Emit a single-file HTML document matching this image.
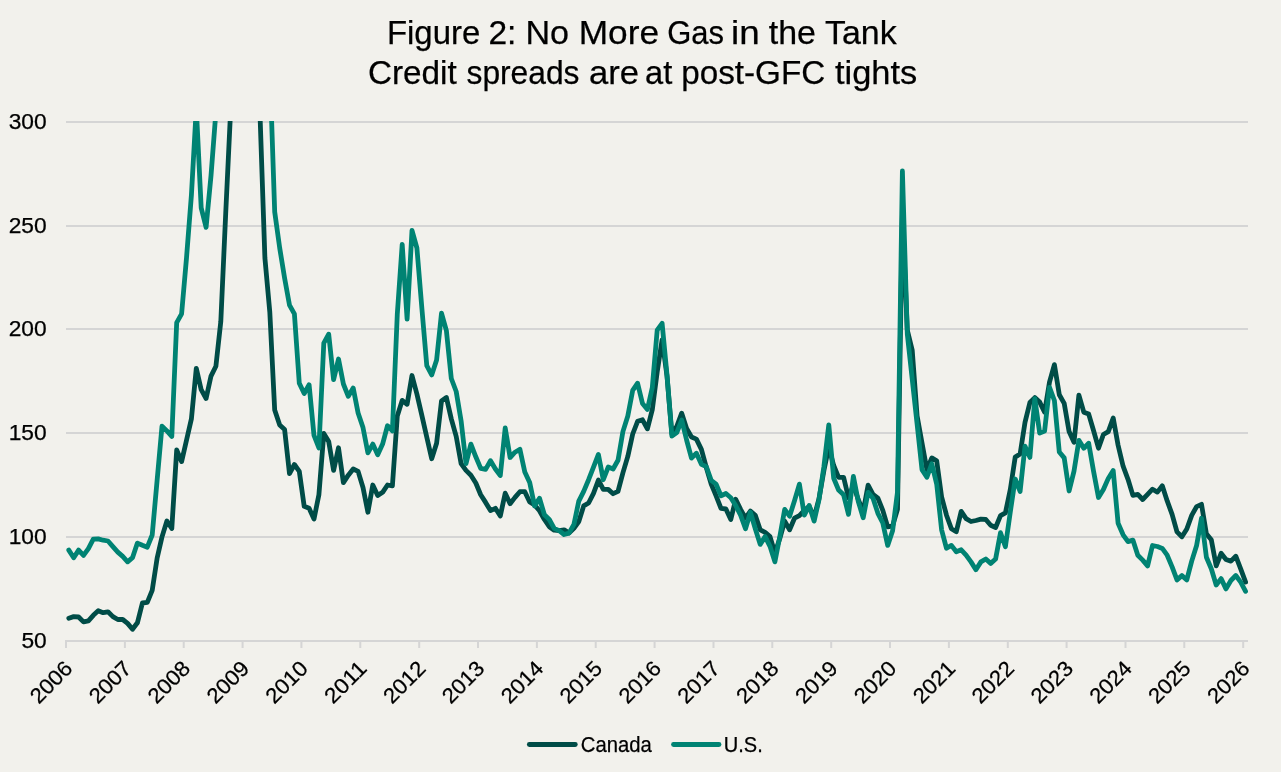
<!DOCTYPE html>
<html lang="en"><head><meta charset="utf-8"><title>Figure 2: No More Gas in the Tank</title>
<style>
html,body{margin:0;padding:0;background:#f2f1ec;}
body{width:1281px;height:772px;overflow:hidden;}
svg{display:block;}
text{font-family:"Liberation Sans",sans-serif;fill:#000;}
.t{font-size:34px;}
.a{font-size:21.4px;}
text{stroke:#000;stroke-width:0.25px;}
</style></head><body>
<svg width="1281" height="772" viewBox="0 0 1281 772">
<rect width="1281" height="772" fill="#f2f1ec"/>
<defs><clipPath id="plot"><rect x="60" y="121" width="1195" height="530"/></clipPath></defs>
<text class="t"><tspan x="386.96" y="43.8" textLength="93.31" lengthAdjust="spacingAndGlyphs">Figure</tspan> <tspan x="488.43" y="43.8" textLength="27.98" lengthAdjust="spacingAndGlyphs">2:</tspan> <tspan x="525.44" y="43.8" textLength="43.6" lengthAdjust="spacingAndGlyphs">No</tspan> <tspan x="578.7" y="43.8" textLength="80.31" lengthAdjust="spacingAndGlyphs">More</tspan> <tspan x="667.24" y="43.8" textLength="56.78" lengthAdjust="spacingAndGlyphs">Gas</tspan> <tspan x="731.07" y="43.8" textLength="28.66" lengthAdjust="spacingAndGlyphs">in</tspan> <tspan x="768.74" y="43.8" textLength="47.23" lengthAdjust="spacingAndGlyphs">the</tspan> <tspan x="825.02" y="43.8" textLength="71.72" lengthAdjust="spacingAndGlyphs">Tank</tspan></text>
<text class="t"><tspan x="368.02" y="83.8" textLength="88.73" lengthAdjust="spacingAndGlyphs">Credit</tspan> <tspan x="466.5" y="83.8" textLength="113.0" lengthAdjust="spacingAndGlyphs">spreads</tspan> <tspan x="589.0" y="83.8" textLength="50.0" lengthAdjust="spacingAndGlyphs">are</tspan> <tspan x="645.03" y="83.8" textLength="27.22" lengthAdjust="spacingAndGlyphs">at</tspan> <tspan x="681.23" y="83.8" textLength="144.03" lengthAdjust="spacingAndGlyphs">post-GFC</tspan> <tspan x="834.99" y="83.8" textLength="82.25" lengthAdjust="spacingAndGlyphs">tights</tspan></text>
<g stroke="#d5d5d5" stroke-width="2" fill="none">
<line x1="65" y1="641" x2="1248" y2="641"/>
<line x1="66" y1="537" x2="1248" y2="537"/>
<line x1="66" y1="433" x2="1248" y2="433"/>
<line x1="66" y1="329" x2="1248" y2="329"/>
<line x1="66" y1="226" x2="1248" y2="226"/>
<line x1="66" y1="122" x2="1248" y2="122"/>
<line x1="66.0" y1="641" x2="66.0" y2="648"/>
<line x1="124.9" y1="641" x2="124.9" y2="648"/>
<line x1="183.7" y1="641" x2="183.7" y2="648"/>
<line x1="242.6" y1="641" x2="242.6" y2="648"/>
<line x1="301.4" y1="641" x2="301.4" y2="648"/>
<line x1="360.3" y1="641" x2="360.3" y2="648"/>
<line x1="419.2" y1="641" x2="419.2" y2="648"/>
<line x1="478.0" y1="641" x2="478.0" y2="648"/>
<line x1="536.9" y1="641" x2="536.9" y2="648"/>
<line x1="595.7" y1="641" x2="595.7" y2="648"/>
<line x1="654.6" y1="641" x2="654.6" y2="648"/>
<line x1="713.5" y1="641" x2="713.5" y2="648"/>
<line x1="772.3" y1="641" x2="772.3" y2="648"/>
<line x1="831.2" y1="641" x2="831.2" y2="648"/>
<line x1="890.0" y1="641" x2="890.0" y2="648"/>
<line x1="948.9" y1="641" x2="948.9" y2="648"/>
<line x1="1007.8" y1="641" x2="1007.8" y2="648"/>
<line x1="1066.6" y1="641" x2="1066.6" y2="648"/>
<line x1="1125.5" y1="641" x2="1125.5" y2="648"/>
<line x1="1184.3" y1="641" x2="1184.3" y2="648"/>
<line x1="1243.2" y1="641" x2="1243.2" y2="648"/>
</g>
<text class="a" x="21.4" y="647.6" textLength="25.3" lengthAdjust="spacingAndGlyphs">50</text>
<text class="a" x="8.7" y="543.6" textLength="38.0" lengthAdjust="spacingAndGlyphs">100</text>
<text class="a" x="8.7" y="439.6" textLength="38.0" lengthAdjust="spacingAndGlyphs">150</text>
<text class="a" x="8.7" y="335.6" textLength="38.0" lengthAdjust="spacingAndGlyphs">200</text>
<text class="a" x="8.7" y="232.6" textLength="38.0" lengthAdjust="spacingAndGlyphs">250</text>
<text class="a" x="8.7" y="128.6" textLength="38.0" lengthAdjust="spacingAndGlyphs">300</text>
<text class="a" transform="translate(73.8,669.7) rotate(-45)" x="-49.5" y="0" textLength="49.5" lengthAdjust="spacingAndGlyphs">2006</text>
<text class="a" transform="translate(132.7,669.7) rotate(-45)" x="-49.5" y="0" textLength="49.5" lengthAdjust="spacingAndGlyphs">2007</text>
<text class="a" transform="translate(191.5,669.7) rotate(-45)" x="-49.5" y="0" textLength="49.5" lengthAdjust="spacingAndGlyphs">2008</text>
<text class="a" transform="translate(250.4,669.7) rotate(-45)" x="-49.5" y="0" textLength="49.5" lengthAdjust="spacingAndGlyphs">2009</text>
<text class="a" transform="translate(309.2,669.7) rotate(-45)" x="-49.5" y="0" textLength="49.5" lengthAdjust="spacingAndGlyphs">2010</text>
<text class="a" transform="translate(368.1,669.7) rotate(-45)" x="-49.5" y="0" textLength="49.5" lengthAdjust="spacingAndGlyphs">2011</text>
<text class="a" transform="translate(427.0,669.7) rotate(-45)" x="-49.5" y="0" textLength="49.5" lengthAdjust="spacingAndGlyphs">2012</text>
<text class="a" transform="translate(485.8,669.7) rotate(-45)" x="-49.5" y="0" textLength="49.5" lengthAdjust="spacingAndGlyphs">2013</text>
<text class="a" transform="translate(544.7,669.7) rotate(-45)" x="-49.5" y="0" textLength="49.5" lengthAdjust="spacingAndGlyphs">2014</text>
<text class="a" transform="translate(603.5,669.7) rotate(-45)" x="-49.5" y="0" textLength="49.5" lengthAdjust="spacingAndGlyphs">2015</text>
<text class="a" transform="translate(662.4,669.7) rotate(-45)" x="-49.5" y="0" textLength="49.5" lengthAdjust="spacingAndGlyphs">2016</text>
<text class="a" transform="translate(721.3,669.7) rotate(-45)" x="-49.5" y="0" textLength="49.5" lengthAdjust="spacingAndGlyphs">2017</text>
<text class="a" transform="translate(780.1,669.7) rotate(-45)" x="-49.5" y="0" textLength="49.5" lengthAdjust="spacingAndGlyphs">2018</text>
<text class="a" transform="translate(839.0,669.7) rotate(-45)" x="-49.5" y="0" textLength="49.5" lengthAdjust="spacingAndGlyphs">2019</text>
<text class="a" transform="translate(897.8,669.7) rotate(-45)" x="-49.5" y="0" textLength="49.5" lengthAdjust="spacingAndGlyphs">2020</text>
<text class="a" transform="translate(956.7,669.7) rotate(-45)" x="-49.5" y="0" textLength="49.5" lengthAdjust="spacingAndGlyphs">2021</text>
<text class="a" transform="translate(1015.6,669.7) rotate(-45)" x="-49.5" y="0" textLength="49.5" lengthAdjust="spacingAndGlyphs">2022</text>
<text class="a" transform="translate(1074.4,669.7) rotate(-45)" x="-49.5" y="0" textLength="49.5" lengthAdjust="spacingAndGlyphs">2023</text>
<text class="a" transform="translate(1133.3,669.7) rotate(-45)" x="-49.5" y="0" textLength="49.5" lengthAdjust="spacingAndGlyphs">2024</text>
<text class="a" transform="translate(1192.1,669.7) rotate(-45)" x="-49.5" y="0" textLength="49.5" lengthAdjust="spacingAndGlyphs">2025</text>
<text class="a" transform="translate(1251.0,669.7) rotate(-45)" x="-49.5" y="0" textLength="49.5" lengthAdjust="spacingAndGlyphs">2026</text>
<g clip-path="url(#plot)" fill="none" stroke-width="4.8" stroke-linejoin="round" stroke-linecap="round">
<polyline stroke="#004c47" points="68.8,618.2 73.7,616.6 78.6,617.0 83.5,621.9 88.4,620.9 93.3,615.3 98.2,610.8 103.1,612.7 108.0,611.8 112.9,616.6 117.8,619.5 122.7,619.5 127.6,623.4 132.5,629.3 137.4,622.8 142.4,603.0 147.3,602.4 152.2,590.4 157.1,558.3 162.0,536.9 166.9,521.0 171.8,528.5 176.7,450.0 181.6,461.6 186.5,440.3 191.4,418.9 196.3,368.3 201.2,389.7 206.1,398.5 211.0,376.1 215.9,366.3 220.8,321.6 225.7,213.7 230.6,110.9 235.5,20.0 240.4,-40.0 245.3,-100.0 250.2,-60.0 255.1,30.0 260.0,114.3 264.9,258.0 269.8,312.0 274.7,410.1 279.7,425.1 284.6,429.6 289.5,473.7 294.4,464.5 299.3,471.4 304.2,506.3 309.1,508.3 314.0,519.0 318.9,494.7 323.8,433.5 328.7,441.5 333.6,470.4 338.5,447.8 343.4,482.6 348.3,475.2 353.2,469.0 358.1,471.4 363.0,487.5 367.9,512.2 372.8,485.0 377.7,495.6 382.6,492.3 387.5,485.0 392.4,485.9 397.3,416.0 402.2,400.4 407.1,404.3 412.0,375.5 416.9,394.0 421.9,415.6 426.8,437.3 431.7,458.7 436.6,443.2 441.5,401.0 446.4,397.5 451.3,418.9 456.2,436.4 461.1,463.6 466.0,470.4 470.9,475.2 475.8,483.0 480.7,494.7 485.6,502.4 490.5,510.6 495.4,508.3 500.3,516.0 505.2,493.2 510.1,503.7 515.0,497.4 519.9,491.7 524.8,491.7 529.7,502.0 534.6,505.0 539.5,510.8 544.4,519.5 549.3,526.7 554.2,530.2 559.1,530.6 564.1,529.8 569.0,533.1 573.9,528.3 578.8,521.5 583.7,505.9 588.6,503.0 593.5,493.3 598.4,480.1 603.3,489.4 608.2,489.4 613.1,493.7 618.0,491.4 622.9,472.9 627.8,456.4 632.7,434.0 637.6,421.4 642.5,419.8 647.4,428.8 652.3,409.7 657.2,371.9 662.1,339.8 667.0,376.0 671.9,434.0 676.8,426.3 681.7,413.2 686.6,428.5 691.5,437.0 696.4,439.1 701.4,449.4 706.3,467.5 711.2,484.1 716.1,495.8 721.0,508.4 725.9,509.0 730.8,519.5 735.7,499.3 740.6,509.4 745.5,518.2 750.4,511.0 755.3,515.2 760.2,529.8 765.1,532.3 770.0,536.6 774.9,553.0 779.8,538.6 784.7,521.1 789.6,529.8 794.5,518.2 799.4,515.6 804.3,510.4 809.2,506.5 814.1,517.2 819.0,498.7 823.9,470.5 828.8,447.0 833.7,465.5 838.6,477.3 843.6,477.3 848.5,497.7 853.4,485.0 858.3,499.7 863.2,511.4 868.1,485.1 873.0,494.3 877.9,498.2 882.8,510.4 887.7,526.9 892.6,525.9 897.5,509.4 902.4,215.0 907.3,330.0 912.2,350.0 917.1,416.0 922.0,443.0 926.9,469.6 931.8,457.9 936.7,460.8 941.6,496.8 946.5,515.2 951.4,528.8 956.3,531.8 961.2,511.4 966.1,518.7 971.0,521.5 975.9,520.5 980.9,519.1 985.8,519.5 990.7,525.3 995.6,527.5 1000.5,515.6 1005.4,512.9 1010.3,489.5 1015.2,457.1 1020.1,454.0 1025.0,422.4 1029.9,402.5 1034.8,397.6 1039.7,402.1 1044.6,412.2 1049.5,382.1 1054.4,364.6 1059.3,394.7 1064.2,403.4 1069.1,431.6 1074.0,442.3 1078.9,395.1 1083.8,412.2 1088.7,414.1 1093.6,430.7 1098.5,448.2 1103.4,434.5 1108.3,431.6 1113.2,418.0 1118.1,445.2 1123.1,466.2 1128.0,479.3 1132.9,495.4 1137.8,494.4 1142.7,499.5 1147.6,494.4 1152.5,489.2 1157.4,492.1 1162.3,485.8 1167.2,500.9 1172.1,514.4 1177.0,531.9 1181.9,536.8 1186.8,529.0 1191.7,515.4 1196.6,506.6 1201.5,504.3 1206.4,533.9 1211.3,539.7 1216.2,565.9 1221.1,553.3 1226.0,559.5 1230.9,561.1 1235.8,556.2 1240.7,568.8 1245.6,582.1"/>
<polyline stroke="#008373" points="68.8,550.1 73.7,557.7 78.6,550.1 83.5,555.4 88.4,548.6 93.3,539.2 98.2,538.9 103.1,540.2 108.0,541.0 112.9,546.6 117.8,552.1 122.7,556.4 127.6,561.8 132.5,557.7 137.4,543.1 142.4,545.3 147.3,547.2 152.2,535.0 157.1,480.5 162.0,426.1 166.9,430.9 171.8,436.4 176.7,322.6 181.6,313.9 186.5,258.0 191.4,195.2 196.3,107.8 201.2,207.9 206.1,227.3 211.0,175.8 215.9,111.9 220.8,40.0 225.7,-50.0 230.6,-200.0 235.5,-400.0 240.4,-600.0 245.3,-600.0 250.2,-500.0 255.1,-300.0 260.0,-150.0 264.9,-40.0 269.8,67.0 274.7,211.8 279.7,248.0 284.6,278.1 289.5,305.1 294.4,313.9 299.3,383.3 304.2,393.5 309.1,384.8 314.0,435.4 318.9,448.0 323.8,343.2 328.7,334.2 333.6,379.7 338.5,359.0 343.4,384.0 348.3,396.3 353.2,388.0 358.1,413.0 363.0,427.6 367.9,452.9 372.8,444.1 377.7,454.8 382.6,444.1 387.5,425.7 392.4,430.9 397.3,314.0 402.2,244.5 407.1,319.1 412.0,230.5 416.9,248.0 421.9,308.6 426.8,365.7 431.7,375.0 436.6,359.9 441.5,313.2 446.4,330.7 451.3,378.5 456.2,391.5 461.1,420.8 466.0,463.6 470.9,444.1 475.8,456.8 480.7,468.4 485.6,469.4 490.5,460.7 495.4,469.0 500.3,475.5 505.2,427.9 510.1,457.5 515.0,452.2 519.9,449.3 524.8,471.9 529.7,482.6 534.6,505.9 539.5,498.2 544.4,514.7 549.3,519.5 554.2,528.3 559.1,530.6 564.1,534.5 569.0,533.1 573.9,524.4 578.8,501.1 583.7,491.4 588.6,479.7 593.5,467.1 598.4,454.4 603.3,479.7 608.2,467.1 613.1,469.0 618.0,460.3 622.9,431.6 627.8,416.0 632.7,390.4 637.6,383.2 642.5,403.5 647.4,409.5 652.3,387.5 657.2,330.1 662.1,323.3 667.0,375.0 671.9,436.0 676.8,432.6 681.7,420.0 686.6,440.0 691.5,458.1 696.4,453.2 701.4,464.3 706.3,466.6 711.2,480.3 716.1,484.1 721.0,495.8 725.9,493.5 730.8,497.7 735.7,505.5 740.6,515.2 745.5,528.8 750.4,512.3 755.3,528.8 760.2,544.4 765.1,536.6 770.0,546.3 774.9,561.9 779.8,536.6 784.7,509.4 789.6,516.2 794.5,500.7 799.4,484.1 804.3,515.2 809.2,505.5 814.1,521.1 819.0,499.7 823.9,466.6 828.8,424.9 833.7,478.3 838.6,490.0 843.6,494.8 848.5,514.3 853.4,476.4 858.3,501.6 863.2,517.7 868.1,492.4 873.0,498.2 877.9,513.3 882.8,523.0 887.7,545.4 892.6,530.8 897.5,492.0 902.4,171.0 907.3,334.0 912.2,379.0 917.1,423.9 922.0,469.6 926.9,477.3 931.8,463.7 936.7,484.1 941.6,529.8 946.5,548.3 951.4,545.4 956.3,551.8 961.2,549.8 966.1,555.1 971.0,561.9 975.9,569.7 980.9,561.9 985.8,559.0 990.7,563.4 995.6,559.0 1000.5,532.7 1005.4,546.7 1010.3,512.0 1015.2,479.0 1020.1,491.4 1025.0,446.2 1029.9,457.4 1034.8,398.6 1039.7,433.1 1044.6,431.0 1049.5,387.3 1054.4,400.5 1059.3,452.0 1064.2,457.9 1069.1,491.0 1074.0,471.1 1078.9,440.4 1083.8,448.2 1088.7,443.3 1093.6,471.5 1098.5,497.5 1103.4,489.5 1108.3,478.4 1113.2,470.5 1118.1,523.2 1123.1,534.8 1128.0,541.6 1132.9,540.1 1137.8,555.2 1142.7,560.1 1147.6,565.9 1152.5,545.5 1157.4,546.5 1162.3,548.4 1167.2,555.2 1172.1,566.9 1177.0,579.9 1181.9,575.6 1186.8,579.9 1191.7,561.1 1196.6,545.5 1201.5,518.3 1206.4,557.2 1211.3,568.8 1216.2,585.0 1221.1,578.6 1226.0,588.9 1230.9,580.5 1235.8,575.5 1240.7,582.1 1245.6,591.3"/>
</g>
<g fill="none" stroke-width="4.8" stroke-linecap="round"><line stroke="#004c47" x1="529.3" y1="744.5" x2="575.3" y2="744.5"/><line stroke="#008373" x1="673.5" y1="744.5" x2="719" y2="744.5"/></g>
<text class="a" x="580.8" y="751.8" textLength="71" lengthAdjust="spacingAndGlyphs">Canada</text>
<text class="a" x="723.8" y="751.8" textLength="39" lengthAdjust="spacingAndGlyphs">U.S.</text>
</svg></body></html>
